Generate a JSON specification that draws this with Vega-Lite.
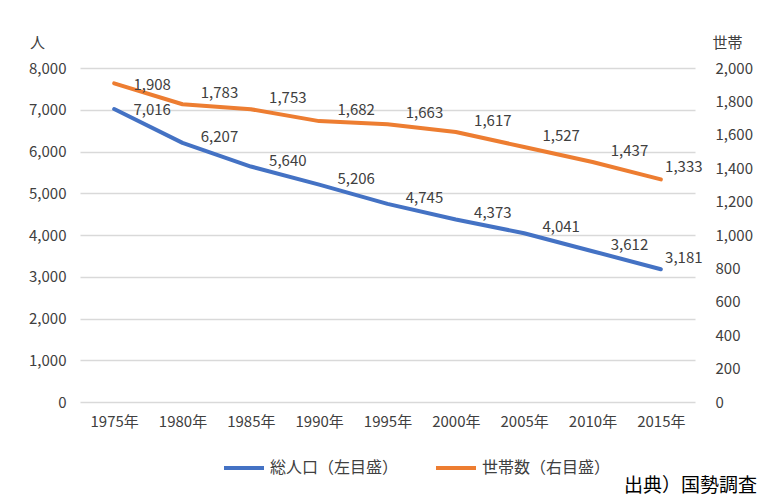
{
  "$schema": "https://vega.github.io/schema/vega-lite/v6.json",
  "width": 615,
  "height": 334,
  "autosize": {"type": "none"},
  "padding": {"left": 80, "top": 68, "right": 62, "bottom": 96},
  "background": "white",
  "config": {
    "font": "Noto Sans CJK JP",
    "view": {"stroke": null},
    "text": {"fontSize": 15, "color": "#404040", "font": "Noto Sans CJK JP"},
    "axis": {"labelFont": "Noto Sans CJK JP", "labelFontSize": 15, "labelColor": "#404040", "titleFont": "Noto Sans CJK JP", "titleFontSize": 15, "titleColor": "#404040", "titleFontWeight": "normal", "labelOverlap": false}
  },
  "title": {"text": "出典）国勢調査", "orient": "bottom", "anchor": "end", "frame": "group", "fontSize": 19, "fontWeight": "normal", "color": "#000000", "offset": 0, "dx": 62, "dy": 10, "baseline": "middle"},
  "data": {
    "values": [
      {"year": "1975年", "pop": 7016, "hh": 1908},
      {"year": "1980年", "pop": 6207, "hh": 1783},
      {"year": "1985年", "pop": 5640, "hh": 1753},
      {"year": "1990年", "pop": 5206, "hh": 1682},
      {"year": "1995年", "pop": 4745, "hh": 1663},
      {"year": "2000年", "pop": 4373, "hh": 1617},
      {"year": "2005年", "pop": 4041, "hh": 1527},
      {"year": "2010年", "pop": 3612, "hh": 1437},
      {"year": "2015年", "pop": 3181, "hh": 1333}
    ]
  },
  "encoding": {
    "x": {"field": "year", "type": "ordinal", "scale": {"type": "point", "padding": 0.5}, "sort": null,
      "axis": {"title": null, "labelAngle": 0, "domain": false, "ticks": false, "labelPadding": 12, "grid": false}}
  },
  "layer": [
    {
      "encoding": {
        "y": {"field": "pop", "type": "quantitative", "scale": {"domain": [0, 8000], "nice": false},
          "axis": {"title": "人", "titleAngle": 0, "titleX": -43, "titleY": -26, "titleAlign": "center", "titleBaseline": "middle", "values": [0,1000,2000,3000,4000,5000,6000,7000,8000], "format": ",.0f", "domain": false, "ticks": false, "labelPadding": 14, "gridColor": "#d9d9d9", "gridWidth": 1.3}}
      },
      "layer": [
        {"mark": {"type": "line", "strokeWidth": 4, "strokeCap": "round", "strokeJoin": "round"},
         "encoding": {
           "color": {"datum": "総人口（左目盛）", "type": "nominal", "scale": {"domain": ["総人口（左目盛）", "世帯数（右目盛）"], "range": ["#4472C4", "#ED7D31"]},
             "legend": {"title": null, "orient": "none", "legendX": 142, "legendY": 378, "direction": "horizontal", "symbolType": "stroke", "symbolSize": 1600, "symbolStrokeWidth": 4, "labelFontSize": 16, "labelColor": "#404040", "labelFont": "Noto Sans CJK JP", "columnPadding": 29, "labelOffset": 4}}
         }},
        {"transform": [{"filter": "datum.year != '1975年' && datum.year != '2015年'"}],
         "mark": {"type": "text", "dx": 37, "dy": -6},
         "encoding": {"text": {"field": "pop", "type": "quantitative", "format": ",.0f"}}},
        {"transform": [{"filter": "datum.year == '1975年'"}],
         "mark": {"type": "text", "dx": 38, "dy": 1},
         "encoding": {"text": {"field": "pop", "type": "quantitative", "format": ",.0f"}}},
        {"transform": [{"filter": "datum.year == '2015年'"}],
         "mark": {"type": "text", "dx": 23, "dy": -11},
         "encoding": {"text": {"field": "pop", "type": "quantitative", "format": ",.0f"}}}
      ]
    },
    {
      "encoding": {
        "y": {"field": "hh", "type": "quantitative", "scale": {"domain": [0, 2000], "nice": false},
          "axis": {"orient": "right", "title": "世帯", "titleAngle": 0, "titleX": 17, "titleY": -26, "titleAlign": "left", "titleBaseline": "middle", "values": [0,200,400,600,800,1000,1200,1400,1600,1800,2000], "format": ",.0f", "domain": false, "ticks": false, "grid": false, "labelPadding": 20}}
      },
      "layer": [
        {"mark": {"type": "line", "strokeWidth": 4, "strokeCap": "round", "strokeJoin": "round"},
         "encoding": {"color": {"datum": "世帯数（右目盛）", "type": "nominal"}}},
        {"transform": [{"filter": "datum.year != '1975年' && datum.year != '2015年'"}],
         "mark": {"type": "text", "dx": 37, "dy": -11},
         "encoding": {"text": {"field": "hh", "type": "quantitative", "format": ",.0f"}}},
        {"transform": [{"filter": "datum.year == '1975年'"}],
         "mark": {"type": "text", "dx": 38, "dy": 2},
         "encoding": {"text": {"field": "hh", "type": "quantitative", "format": ",.0f"}}},
        {"transform": [{"filter": "datum.year == '2015年'"}],
         "mark": {"type": "text", "dx": 23, "dy": -12},
         "encoding": {"text": {"field": "hh", "type": "quantitative", "format": ",.0f"}}}
      ]
    }
  ],
  "resolve": {"scale": {"y": "independent"}}
}
